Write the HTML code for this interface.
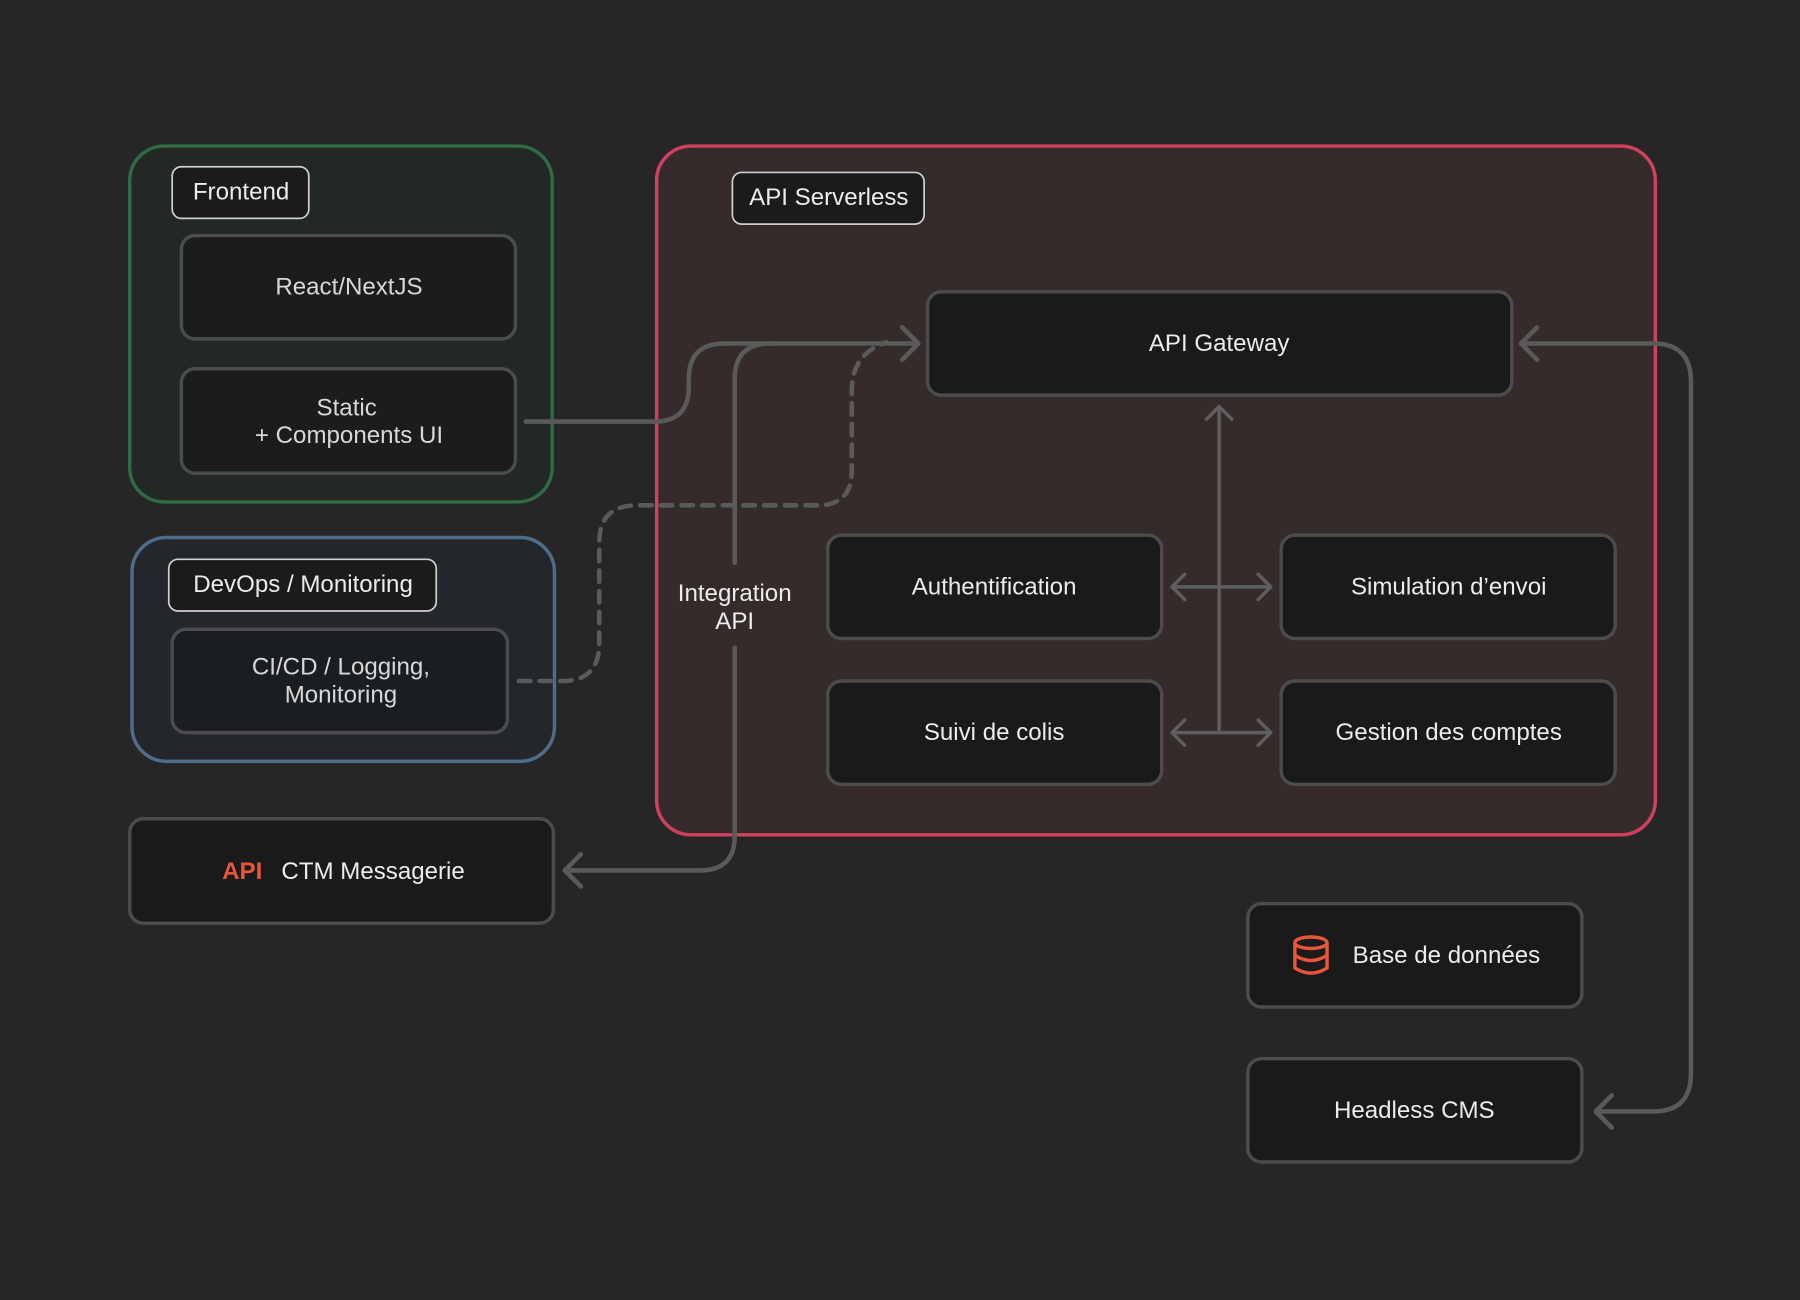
<!DOCTYPE html>
<html><head><meta charset="utf-8"><style>
html,body{margin:0;padding:0;background:#262626;}
svg{display:block}
text{font-family:"Liberation Sans",sans-serif;fill:#ececec;font-size:21px;text-anchor:middle;dominant-baseline:central}
</style></head><body>
<svg width="1800" height="1300" viewBox="0 0 1568 1132" xmlns="http://www.w3.org/2000/svg">
<rect width="1568" height="1132" fill="#262626"/>
<!-- groups -->
<rect x="113" y="127" width="368" height="310" rx="30" fill="#222823" stroke="#2f6b45" stroke-width="3"/>
<rect x="115" y="468" width="368" height="195" rx="30" fill="#23272c" stroke="#4f6d8a" stroke-width="3"/>
<rect x="572" y="127" width="870" height="600" rx="30" fill="#352b2b" stroke="#d0405f" stroke-width="3"/>
<!-- connectors -->
<g fill="none" stroke="#5a5a5a" stroke-width="4" stroke-linecap="round" stroke-linejoin="round">
<path d="M458 367 H570 Q600 367 600 337 V330 Q600 299 631 299 H798"/>
<path d="M786 285 L800 299 L786 313"/>
<path d="M640 490 V330 Q640 299 671 299"/>
<path d="M640 564 V728 Q640 758 610 758 H492"/>
<path d="M506 744 L492 758 L506 772"/>
<path d="M452 593 H490 Q522 593 522 560 V472 Q522 440 555 440 H712 Q742 440 742 410 V340 Q742 308 772 298" stroke-dasharray="10 8"/>
<path d="M1325 299 H1440 Q1473 299 1473 332 V935 Q1473 968 1440 968 H1390"/>
<path d="M1339 285 L1325 299 L1339 313"/>
<path d="M1404 954 L1390 968 L1404 982"/>
</g>
<g fill="none" stroke="#5e5e5e" stroke-width="3" stroke-linecap="round" stroke-linejoin="round">
<path d="M1062 354 V638"/>
<path d="M1051 365 L1062 354 L1073 365"/>
<path d="M1021 511 H1107 M1032 500 L1021 511 L1032 522 M1096 500 L1107 511 L1096 522"/>
<path d="M1021 638 H1107 M1032 627 L1021 638 L1032 649 M1096 627 L1107 638 L1096 649"/>
</g>
<text x="640" y="517" font-size="18">Integration</text>
<text x="640" y="541" font-size="18">API</text>
<!-- labels -->
<g fill="#1b1b1b" stroke="#cfcfcf" stroke-width="1.5">
<rect x="150" y="145" width="119" height="45" rx="8"/>
<rect x="147" y="487" width="233" height="45" rx="8"/>
<rect x="638" y="150" width="167" height="45" rx="8"/>
</g>
<text x="210" y="167">Frontend</text>
<text x="264" y="509">DevOps / Monitoring</text>
<text x="722" y="172">API Serverless</text>
<!-- nodes -->
<g stroke="#4c4c4c" stroke-width="3">
<rect x="158" y="205" width="291" height="90" rx="12" fill="#1a1d1b"/>
<rect x="158" y="321" width="291" height="91" rx="12" fill="#1a1d1b"/>
<rect x="150" y="548" width="292" height="90" rx="12" fill="#1b1e21"/>
<rect x="113" y="713" width="369" height="91" rx="12" fill="#1a1a1a"/>
<rect x="808" y="254" width="509" height="90" rx="12" fill="#1a1a1a"/>
<rect x="721" y="466" width="291" height="90" rx="12" fill="#1a1a1a"/>
<rect x="1116" y="466" width="291" height="90" rx="12" fill="#1a1a1a"/>
<rect x="721" y="593" width="291" height="90" rx="12" fill="#1a1a1a"/>
<rect x="1116" y="593" width="291" height="90" rx="12" fill="#1a1a1a"/>
<rect x="1087" y="787" width="291" height="90" rx="12" fill="#1a1a1a"/>
<rect x="1087" y="922" width="291" height="90" rx="12" fill="#1a1a1a"/>
</g>
<text x="304" y="250" fill="#d8d8d8" style="fill:#d8d8d8">React/NextJS</text>
<text x="302" y="355" style="fill:#d8d8d8">Static</text>
<text x="304" y="379" style="fill:#d8d8d8">+ Components UI</text>
<text x="297" y="581" style="fill:#d8d8d8">CI/CD / Logging,</text>
<text x="297" y="605" style="fill:#d8d8d8">Monitoring</text>
<text x="211" y="759" style="fill:#e8553a;font-weight:bold">API</text>
<text x="325" y="759">CTM Messagerie</text>
<text x="1062" y="299">API Gateway</text>
<text x="866" y="511">Authentification</text>
<text x="1262" y="511">Simulation d’envoi</text>
<text x="866" y="638">Suivi de colis</text>
<text x="1262" y="638">Gestion des comptes</text>
<text x="1260" y="832">Base de données</text>
<text x="1232" y="967">Headless CMS</text>
<g fill="none" stroke="#e8553a" stroke-width="3">
<ellipse cx="1142" cy="821" rx="14" ry="5"/>
<path d="M1128 821 V843 Q1142 852 1156 843 V821 M1128 832 Q1142 841 1156 832"/>
</g>
</svg>
</body></html>
